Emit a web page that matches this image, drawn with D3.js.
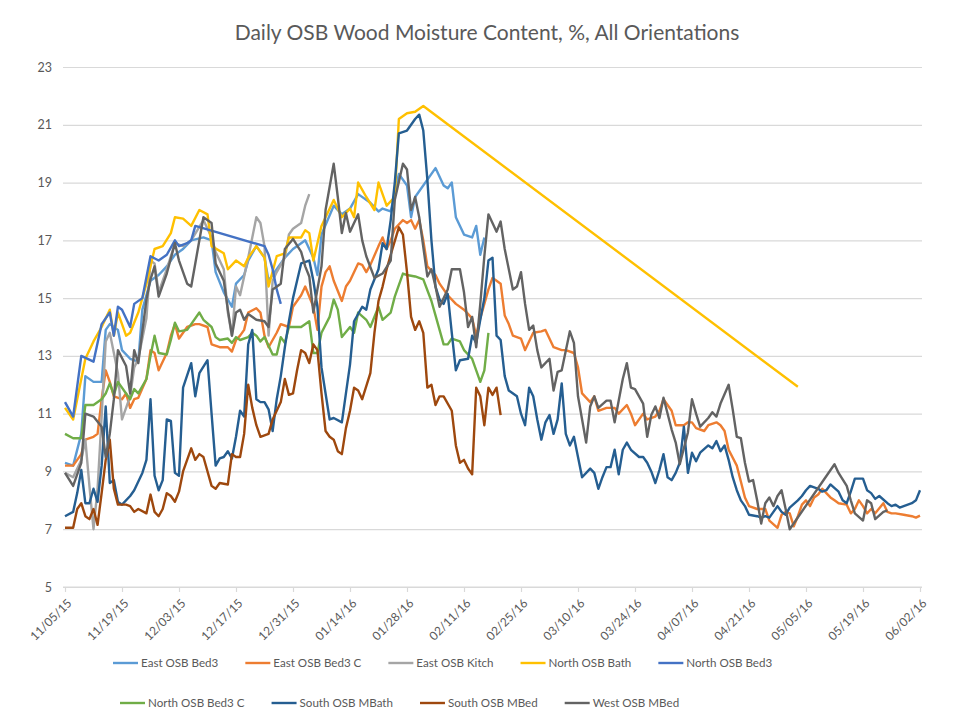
<!DOCTYPE html>
<html>
<head>
<meta charset="utf-8">
<script src="https://cdn.jsdelivr.net/npm/d3@7"></script>
<style>
  body { margin: 0; background: #fff; }
  text { font-family: Lato, "Open Sans", sans-serif; fill: #595959; }
</style>
</head>
<body>
<svg id="chart" width="954" height="724"></svg>
<script>
// day offsets counted from the first date, values in % moisture content
const startDate = "11/05/15";
const endDate = "06/02/16";
const tickLabels = ["11/05/15", "11/19/15", "12/03/15", "12/17/15", "12/31/15", "01/14/16", "01/28/16", "02/11/16",
  "02/25/16", "03/10/16", "03/24/16", "04/07/16", "04/21/16", "05/05/16", "05/19/16", "06/02/16"];
const yTicks = [5, 7, 9, 11, 13, 15, 17, 19, 21, 23];

const seriesNames = ["East OSB Bed3", "East OSB Bed3 C", "East OSB Kitch", "North OSB Bath", "North OSB Bed3",
  "North OSB Bed3 C", "South OSB MBath", "South OSB MBed", "West OSB MBed"];
const seriesColors = ["#5B9BD5", "#ED7D31", "#A5A5A5", "#FFC000", "#4472C4", "#70AD47", "#255E91", "#9E480E", "#636363"];

const eastBed3 = [[0,9.3],[2,9.2],[4,10.3],[5,12.3],[7,12.1],[9,12.1],[10,13.9],[11,14.1],[13,13.9],[14,13.2],[16,12.9],[18,12.8],
  [19,14.6],[21,15.6],[23,15.8],[25,16.1],[27,16.5],[29,16.7],[31,17.0],[34,17.1],[36,17.0],[37,15.9],[39,15.2],[41,14.7],
  [42,15.5],[44,15.8],[45,16.3],[47,16.8],[49,16.4],[50,15.6],[52,16.0],[54,16.4],[56,16.7],[58,16.9],[59,17.0],[61,16.4],
  [62,15.8],[63,17.2],[66,18.2],[68,17.9],[70,18.1],[72,18.6],[75,18.3],[77,18.0],[78,18.1],[80,18.0],[82,19.3],[84,18.9],
  [85,17.8],[86,18.5],[91,19.5],[93,18.9],[94,18.8],[95,19.0],[96,17.8],[98,17.2],[100,17.1],[101,17.5],[102,16.5],[103,17.1]];

const eastBed3C = [[0,9.2],[2,9.2],[4,9.6],[5,10.1],[7,10.2],[8,10.3],[9,11.5],[10,12.5],[11,12.1],[12,11.6],[14,11.5],[15,11.7],
  [16,11.2],[17,11.5],[18,11.55],[20,12.2],[21,13.2],[22,13.1],[23,12.5],[25,13.1],[26,13.7],[27,14.1],[28,13.6],[30,14.0],
  [32,14.1],[33,14.1],[35,14.0],[36,13.4],[38,13.3],[40,13.3],[41,13.15],[42,13.55],[43,13.7],[44,13.9],[45,14.5],[47,14.65],
  [48,14.5],[49,13.7],[50,13.3],[52,13.8],[53,14.1],[55,14.0],[56,14.7],[58,15.1],[59,15.4],[61,14.7],[62,13.9],[63,15.4],
  [64,15.9],[65,16.1],[66,15.6],[68,14.9],[69,15.4],[70,15.6],[72,16.2],[73,16.15],[74,15.9],[75,16.15],[77,16.8],[78,17.1],
  [79,16.7],[80,17.0],[81,17.4],[83,17.7],[84,17.6],[85,17.7],[86,17.4],[87,17.7],[88,17.0],[89,16.1],[91,15.8],[92,15.5],
  [94,15.1],[96,14.8],[98,14.6],[100,14.3],[101,13.7],[102,14.3],[104,15.3],[105,15.7],[106,15.6],[107,15.5],[108,14.4],
  [109,14.1],[110,13.7],[112,13.6],[113,13.2],[115,13.8],[117,13.85],[118,13.9],[120,13.3],[122,13.2],[123,13.2],[125,13.1],
  [126,12.6],[127,11.7],[129,11.4],[130,11.6],[131,11.1],[133,11.2],[135,11.2],[136,11.0],[138,11.3],[139,11.0],[140,10.6],
  [142,11.0],[143,10.8],[145,10.9],[146,11.1],[147,11.5],[149,11.1],[150,10.6],[152,10.6],[153,10.7],[154,10.7],[155,10.5],
  [157,10.4],[158,10.6],[160,10.7],[161,10.6],[162,10.4],[163,9.75],[165,9.2],[166,8.65],[167,8.1],[168,7.8],[170,7.7],
  [172,7.7],[173,7.3],[175,7.05],[176,7.5],[177,7.6],[178,7.55],[179,7.1],[180,7.45],[181,7.85],[182,8.0],[183,7.8],[184,8.1],
  [185,8.2],[186,8.4],[187,8.25],[188,8.1],[189,8.0],[190,7.9],[192,7.85],[193,7.55],[194,7.7],[195,8.0],[196,7.8],[197,7.55],
  [198,7.7],[199,7.55],[201,7.9],[202,7.6],[203,7.55],[204,7.55],[206,7.5],[208,7.45],[209,7.4],[210,7.47]];

const eastKitch = [[0,8.95],[2,8.8],[4,9.4],[5,10.1],[6,8.5],[7,7.0],[8,8.4],[9,10.9],[10,13.5],[11,13.8],[13,12.4],[14,10.8],
  [16,11.6],[17,12.6],[18,12.9],[20,14.3],[21,16.3],[22,16.2],[23,15.2],[25,16.0],[27,16.9],[29,16.8],[31,17.0],[34,17.7],
  [36,17.1],[37,16.6],[39,16.0],[40,14.5],[41,13.7],[42,15.4],[43,15.1],[45,16.4],[46,17.1],[47,17.8],[48,17.6],[49,16.8],
  [50,13.7],[51,15.6],[52,15.9],[54,16.4],[55,17.2],[56,17.4],[58,17.6],[59,18.2],[60,18.6]];

const northBath = [[0,11.2],[2,10.8],[5,12.9],[7,13.5],[9,14.0],[11,14.6],[12,13.7],[13,14.5],[15,13.7],[16,13.8],[18,14.5],
  [20,15.5],[22,16.7],[24,16.8],[26,17.25],[27,17.8],[29,17.75],[31,17.5],[33,18.05],[35,17.9],[36,16.8],[39,16.55],[40,16.0],
  [42,16.3],[44,16.1],[45,16.4],[47,16.8],[49,16.4],[50,15.4],[52,16.45],[54,16.55],[55,17.1],[58,17.1],[59,17.35],[60,17.25],
  [61,16.3],[63,17.5],[66,18.4],[68,17.8],[70,18.1],[71,17.8],[72,19.0],[74,18.5],[76,18.05],[77,19.0],[79,18.2],[81,18.5],
  [82,21.2],[84,21.4],[86,21.45],[88,21.65],[180,11.93]];

const northBed3 = [[0,11.4],[2,10.9],[4,13.0],[7,12.8],[9,14.1],[11,14.5],[12,13.7],[13,14.7],[14,14.6],[16,14.0],[17,14.8],
  [19,15.0],[21,16.45],[23,16.3],[25,16.5],[27,17.0],[28,16.8],[30,16.9],[31,17.0],[32,17.5],[49,16.8],[50,16.5],[51,16.0],
  [52,15.3],[53,14.8]];

const northBed3C = [[0,10.3],[2,10.15],[4,10.15],[5,11.3],[7,11.3],[9,11.5],[10,11.7],[11,12.05],[12,11.65],[13,12.1],[15,11.7],
  [16,11.5],[17,11.85],[18,11.7],[20,12.2],[21,13.0],[22,13.7],[23,13.1],[25,13.05],[26,13.55],[27,14.15],[28,13.85],[30,13.9],
  [31,14.1],[33,14.5],[34,14.25],[36,14.0],[37,13.65],[38,13.55],[40,13.6],[41,13.45],[42,13.65],[43,13.55],[45,13.65],
  [46,13.8],[47,13.7],[48,13.5],[49,13.65],[51,13.05],[52,13.05],[53,13.65],[54,13.45],[55,14.0],[57,14.0],[58,14.0],
  [60,14.2],[61,13.1],[62,13.1],[63,13.8],[65,14.35],[66,14.95],[67,14.6],[68,13.65],[70,14.0],[71,13.8],[72,14.5],[74,14.25],
  [75,14.0],[77,14.7],[78,14.25],[80,14.5],[81,15.05],[83,15.85],[84,15.8],[86,15.75],[88,15.65],[90,14.9],[91,14.4],
  [92,13.9],[93,13.4],[94,13.4],[95,13.6],[97,13.5],[98,13.2],[100,12.9],[101,12.5],[102,12.1],[103,12.5],[104,13.8]];

const southMBath = [[0,7.45],[2,7.6],[3,8.25],[4,9.05],[5,7.9],[6,7.9],[7,8.4],[8,7.95],[9,9.2],[10,11.25],[11,8.6],[12,8.7],
  [13,7.95],[14,7.85],[16,8.15],[17,8.35],[19,8.95],[20,9.4],[21,11.5],[22,8.85],[23,8.35],[24,8.7],[25,10.8],[26,10.75],
  [27,8.95],[28,8.85],[29,11.9],[31,12.75],[32,11.6],[33,12.4],[35,12.85],[36,11.0],[37,9.2],[38,9.45],[39,9.5],[40,9.7],
  [41,9.45],[42,10.2],[43,11.1],[44,10.9],[45,13.4],[46,13.9],[47,11.5],[48,11.4],[49,11.4],[50,11.15],[51,10.4],[52,11.5],
  [53,12.3],[54,13.3],[55,14.2],[56,15.0],[57,15.6],[58,16.2],[60,16.3],[61,15.6],[62,14.7],[63,12.6],[65,10.8],[66,10.85],
  [68,10.7],[69,11.7],[70,12.7],[71,14.2],[73,14.7],[74,14.6],[75,15.3],[77,16.0],[78,16.9],[79,16.7],[80,17.7],[81,19.0],
  [82,20.7],[84,20.8],[85,21.0],[86,21.2],[87,21.35],[88,20.8],[89,19.1],[90,17.0],[91,15.4],[92,14.95],[93,14.8],[94,15.15],
  [95,13.8],[96,12.5],[97,12.85],[99,12.9],[100,13.7],[101,13.45],[102,14.25],[103,15.0],[104,16.3],[105,16.4],[106,13.7],
  [107,13.55],[108,12.3],[109,11.8],[111,11.6],[112,11.0],[113,10.6],[114,11.9],[115,11.6],[116,10.8],[117,10.1],[118,10.7],
  [119,10.95],[120,10.3],[121,10.8],[122,12.05],[123,10.3],[124,9.9],[125,10.2],[126,9.5],[127,8.8],[129,9.1],[130,8.95],
  [131,8.4],[132,8.8],[133,9.15],[134,9.15],[135,9.75],[136,8.9],[137,9.75],[138,10.0],[139,9.75],[141,9.5],[142,9.5],
  [143,9.3],[144,9.0],[145,8.6],[146,9.05],[147,9.6],[148,8.8],[149,8.7],[150,8.95],[151,9.3],[152,10.55],[153,8.95],
  [154,9.65],[155,9.35],[156,9.65],[158,9.9],[159,9.8],[160,10.05],[161,9.7],[162,9.9],[163,9.4],[164,8.8],[165,8.35],
  [166,8.0],[167,7.8],[168,7.5],[170,7.45],[171,7.4],[172,7.45],[173,7.4],[174,7.6],[175,7.8],[176,7.6],[177,7.5],[178,7.75],
  [180,8.0],[181,8.15],[182,8.35],[183,8.5],[185,8.4],[186,8.3],[187,8.35],[188,8.55],[190,8.3],[191,8.0],[192,7.9],[193,8.3],
  [194,8.75],[196,8.75],[197,8.35],[198,8.25],[199,8.05],[200,8.15],[202,7.9],[203,7.8],[204,7.85],[205,7.75],[206,7.8],
  [208,7.9],[209,8.0],[210,8.35]];

const southMBed = [[0,7.05],[2,7.05],[3,7.7],[4,7.9],[5,7.45],[6,7.35],[7,7.7],[8,7.15],[9,8.25],[10,9.4],[11,10.1],[12,8.4],
  [13,7.85],[15,7.85],[16,7.8],[17,7.6],[18,7.7],[20,7.55],[21,8.2],[22,7.6],[23,7.45],[24,7.7],[25,8.25],[26,8.15],[27,7.95],
  [28,8.3],[29,9.0],[31,9.8],[32,9.4],[33,9.6],[34,9.5],[36,8.5],[37,8.4],[38,8.6],[40,8.55],[41,9.6],[42,9.5],[43,9.5],
  [44,10.3],[45,12.0],[46,11.2],[47,10.6],[48,10.2],[50,10.3],[51,10.8],[53,11.4],[54,12.2],[55,11.65],[56,11.7],[57,12.5],
  [58,13.2],[59,13.1],[60,12.75],[61,13.4],[62,13.2],[63,11.7],[64,10.4],[65,10.2],[66,10.1],[67,9.7],[68,9.6],[69,10.5],
  [70,11.1],[71,11.9],[72,11.8],[73,11.5],[75,12.4],[76,13.8],[77,14.9],[78,15.4],[79,16.0],[80,16.5],[82,17.45],[83,17.2],
  [84,15.9],[85,14.35],[86,13.9],[87,14.2],[88,13.8],[89,11.9],[90,12.0],[91,11.3],[92,11.6],[93,11.6],[95,11.1],[96,9.9],
  [97,9.3],[98,9.4],[99,9.1],[100,8.9],[101,11.9],[102,11.6],[103,10.6],[104,11.9],[105,11.65],[106,11.9],[107,10.95]];

const westMBed = [[0,8.95],[2,8.5],[4,9.3],[5,11.0],[7,10.9],[9,10.55],[10,9.5],[11,10.3],[12,11.5],[13,13.2],[15,12.65],
  [16,11.7],[17,13.2],[18,12.75],[20,14.95],[21,15.65],[22,16.1],[23,15.05],[25,15.85],[27,16.9],[28,16.3],[30,15.5],[31,15.4],
  [32,16.2],[34,17.8],[36,17.6],[37,16.2],[39,15.6],[40,14.6],[41,13.7],[42,14.5],[43,14.6],[44,14.25],[45,14.45],[47,14.25],
  [49,14.2],[50,14.0],[51,15.3],[53,15.5],[54,16.7],[56,17.05],[58,16.6],[59,16.1],[60,15.75],[61,14.5],[63,16.1],[64,18.05],
  [66,19.65],[67,18.5],[68,17.25],[69,17.95],[70,17.3],[72,17.9],[73,17.0],[74,16.45],[76,15.7],[78,15.85],[80,16.3],
  [81,18.4],[83,19.65],[84,19.45],[85,18.05],[86,18.5],[87,17.8],[89,15.75],[90,16.0],[91,15.4],[92,14.7],[94,15.3],[95,16.0],
  [97,16.0],[98,15.2],[99,14.0],[100,14.35],[101,13.3],[102,14.8],[103,16.45],[104,17.9],[106,17.3],[107,17.65],[108,16.7],
  [110,15.3],[111,15.4],[112,15.9],[113,14.8],[114,13.9],[115,14.05],[116,13.2],[117,12.6],[119,12.9],[120,11.8],[121,12.45],
  [122,12.5],[124,13.85],[125,13.45],[126,11.6],[128,10.0],[129,11.25],[130,11.6],[131,11.2],[133,11.45],[134,11.45],
  [135,10.7],[137,12.2],[138,12.75],[139,11.9],[140,11.85],[142,11.35],[143,10.2],[144,10.95],[145,11.25],[146,10.85],
  [147,11.55],[149,10.45],[150,10.0],[151,9.25],[153,10.35],[154,11.5],[155,11.0],[156,10.55],[158,10.85],[159,11.05],
  [160,10.9],[161,11.35],[163,12.0],[164,11.15],[165,10.2],[166,10.15],[167,9.3],[168,8.65],[169,8.7],[170,8.0],[171,7.2],
  [172,7.9],[173,8.1],[174,7.8],[175,8.15],[176,8.35],[177,7.7],[178,7.0],[189,9.25],[190,8.95],[192,8.5],[193,8.0],
  [194,7.55],[196,7.3],[197,8.0],[198,7.9],[199,7.35],[201,7.6],[202,7.65]];

const seriesData = [eastBed3, eastBed3C, eastKitch, northBath, northBed3, northBed3C, southMBath, southMBed, westMBed];

const parseDate = d3.utcParse("%m/%d/%y");
const day0 = parseDate(startDate);

const margin = { left: 63, right: 922, top: 67, bottom: 587 };

const xScale = d3.scaleUtc()
  .domain([day0, parseDate(endDate)])
  .range([65, 920]);
const yScale = d3.scaleLinear()
  .domain([5, 23])
  .range([margin.bottom, margin.top]);

const svg = d3.select("#chart");

svg.append("text")
  .attr("x", 487)
  .attr("y", 40)
  .attr("text-anchor", "middle")
  .style("font-size", "21px")
  .text("Daily OSB Wood Moisture Content, %, All Orientations");

// horizontal gridlines + y labels
let yAxis = d3.axisLeft(yScale)
  .tickValues(yTicks)
  .tickSize(-(margin.right - margin.left))
  .tickPadding(11);
let gy = svg.append("g")
  .attr("transform", "translate(" + margin.left + ",0)")
  .call(yAxis);
gy.select(".domain").remove();
gy.selectAll(".tick line").attr("stroke", "#D9D9D9").attr("stroke-width", 1.2);
gy.selectAll(".tick text").style("font-size", "12.5px").attr("fill", "#595959");

// x axis with rotated date labels
let xAxis = d3.axisBottom(xScale)
  .tickValues(tickLabels.map(parseDate))
  .tickSize(5)
  .tickFormat(d3.utcFormat("%m/%d/%y"));
let gx = svg.append("g")
  .attr("transform", "translate(0," + margin.bottom + ")")
  .call(xAxis);
gx.select(".domain")
  .attr("d", "M" + margin.left + ",0H" + margin.right)
  .attr("stroke", "#D9D9D9").attr("stroke-width", 1.2);
gx.selectAll(".tick line").attr("stroke", "#D9D9D9").attr("stroke-width", 1.2);
gx.selectAll(".tick text")
  .style("font-size", "12px")
  .attr("fill", "#595959")
  .attr("text-anchor", "end")
  .attr("dy", "0.35em")
  .attr("transform", "translate(4,14) rotate(-45)")
  .attr("y", 0)
  .attr("x", 0);

let line = d3.line()
  .x(d => xScale(d3.utcDay.offset(day0, d[0])))
  .y(d => yScale(d[1]));

svg.append("g").selectAll("path")
  .data(seriesData)
  .enter().append("path")
  .attr("d", d => line(d))
  .attr("fill", "none")
  .attr("stroke", (d, i) => seriesColors[i])
  .attr("stroke-width", 2.4)
  .attr("stroke-linejoin", "round");

// legend, two rows flowing left to right
const legendRows = [[0, 1, 2, 3, 4], [5, 6, 7, 8]];
const legendStart = [113, 120];
const legendY = [663, 703];
legendRows.forEach((row, r) => {
  let xPos = legendStart[r];
  row.forEach(i => {
    let g = svg.append("g").attr("transform", "translate(" + xPos + "," + legendY[r] + ")");
    g.append("line")
      .attr("x1", 0).attr("x2", 25)
      .attr("y1", 0).attr("y2", 0)
      .attr("stroke", seriesColors[i])
      .attr("stroke-width", 2.4);
    let t = g.append("text")
      .attr("x", 28)
      .attr("y", 0)
      .attr("dy", "0.35em")
      .style("font-size", "11.6px")
      .text(seriesNames[i]);
    xPos += 28 + t.node().getComputedTextLength() + 27;
  });
});
</script>
</body>
</html>
